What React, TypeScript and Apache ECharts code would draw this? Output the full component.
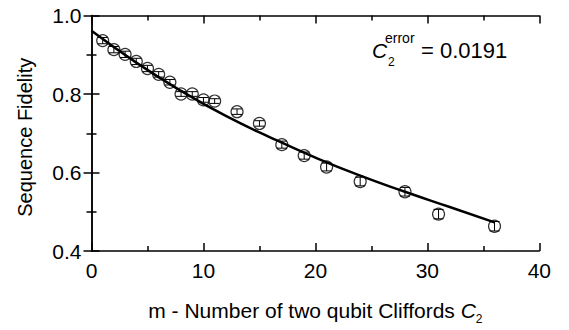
import React, { useEffect, useRef } from "react";
import * as echarts from "echarts";

// Measured data (m, fidelity, error)
const mValues = [1, 2, 3, 4, 5, 6, 7, 8, 9, 10, 11, 13, 15, 17, 19, 21, 24, 28, 31, 36];
const fidelity = [0.936, 0.913, 0.901, 0.883, 0.865, 0.85, 0.83, 0.8, 0.8, 0.785, 0.782, 0.755, 0.725, 0.671, 0.643, 0.614, 0.577, 0.551, 0.494, 0.463];
const errors = [0.008, 0.008, 0.008, 0.008, 0.008, 0.007, 0.007, 0.006, 0.006, 0.006, 0.006, 0.007, 0.007, 0.009, 0.009, 0.01, 0.011, 0.011, 0.012, 0.012];

// Fit curve
const fitM = [0, 4, 8, 12, 16, 20, 24, 28, 32, 36];
const fitF = [0.961, 0.88, 0.808, 0.744, 0.689, 0.638, 0.592, 0.551, 0.512, 0.473];

const xTicks = { min: 0, max: 40, interval: 10 };
const yTicks = { min: 0.4, max: 1.0, interval: 0.2 };

const FONT = "'Liberation Sans', Arial, Helvetica, sans-serif";

export default function App() {
  const ref = useRef<HTMLDivElement>(null);

  useEffect(() => {
    if (!ref.current) return;
    const chart = echarts.init(ref.current, undefined, { renderer: "svg" });

    const points = mValues.map((m, i) => [m, fidelity[i]]);
    const errData = mValues.map((m, i) => [m, fidelity[i], errors[i]]);
    const fitData = fitM.map((m, i) => [m, fitF[i]]);

    const axisLine = { show: true, lineStyle: { color: "#000", width: 1.5 } };
    const tick = { show: true, inside: true, length: 8, lineStyle: { color: "#000", width: 1.5 } };
    const minor = { show: true, splitNumber: 2, length: 5, lineStyle: { color: "#000", width: 1.5 } };

    const option: any = {
      animation: false,
      backgroundColor: "#fff",
      textStyle: { fontFamily: FONT },
      grid: { left: 91.5, right: 29.7, top: 15.5, bottom: 78.5, containLabel: false },
      xAxis: [
        {
          type: "value",
          position: "bottom",
          min: xTicks.min,
          max: xTicks.max,
          interval: xTicks.interval,
          axisLine,
          axisTick: tick,
          minorTick: minor,
          splitLine: { show: false },
          minorSplitLine: { show: false },
          axisLabel: { color: "#000", fontSize: 21, margin: 9, fontFamily: FONT },
          name: "{a|m - Number of two qubit Cliffords }{c|C}{s|2}",
          nameLocation: "middle",
          nameGap: 45,
          nameTextStyle: {
            color: "#000",
            fontFamily: FONT,
            rich: {
              a: { fontSize: 21, lineHeight: 29, color: "#000", fontFamily: FONT },
              c: { fontSize: 21, lineHeight: 29, color: "#000", fontStyle: "italic", fontFamily: FONT },
              s: { fontSize: 12, lineHeight: 12, color: "#000", verticalAlign: "bottom", fontFamily: FONT },
            },
          },
        },
        {
          type: "value",
          position: "top",
          min: xTicks.min,
          max: xTicks.max,
          interval: xTicks.interval,
          axisLine,
          axisTick: tick,
          minorTick: minor,
          splitLine: { show: false },
          axisLabel: { show: false },
        },
      ],
      yAxis: [
        {
          type: "value",
          position: "left",
          min: yTicks.min,
          max: yTicks.max,
          interval: yTicks.interval,
          axisLine,
          axisTick: tick,
          minorTick: minor,
          splitLine: { show: false },
          minorSplitLine: { show: false },
          axisLabel: {
            color: "#000",
            fontSize: 21,
            margin: 10,
            fontFamily: FONT,
            formatter: (v: number) => v.toFixed(1),
          },
          name: "Sequence Fidelity",
          nameLocation: "middle",
          nameGap: 57,
          nameTextStyle: { color: "#000", fontSize: 20, fontFamily: FONT, padding: [0, 8, 0, 0] },
        },
        {
          type: "value",
          position: "right",
          min: yTicks.min,
          max: yTicks.max,
          interval: yTicks.interval,
          axisLine,
          axisTick: tick,
          minorTick: minor,
          splitLine: { show: false },
          axisLabel: { show: false },
        },
      ],
      graphic: [
        { type: "text", left: 372, top: 40, style: { text: "C", fontSize: 21, fontStyle: "italic", fontFamily: FONT, fill: "#000" } },
        { type: "text", left: 388, top: 56, style: { text: "2", fontSize: 12, fontFamily: FONT, fill: "#000" } },
        { type: "text", left: 385, top: 31, style: { text: "error", fontSize: 14, fontFamily: FONT, fill: "#000" } },
        { type: "text", left: 421, top: 39, style: { text: "= 0.0191", fontSize: 22, fontFamily: FONT, fill: "#000" } },
      ],
      series: [
        {
          type: "line",
          data: fitData,
          smooth: true,
          showSymbol: false,
          symbol: "none",
          lineStyle: { color: "#000", width: 2.5 },
          xAxisIndex: 0,
          yAxisIndex: 0,
          z: 2,
        },
        {
          type: "custom",
          xAxisIndex: 0,
          yAxisIndex: 0,
          data: errData,
          encode: { x: 0, y: 1 },
          z: 3,
          renderItem: (params: any, api: any) => {
            const x = api.value(0);
            const y = api.value(1);
            const e = api.value(2);
            const top = api.coord([x, y + e]);
            const bot = api.coord([x, y - e]);
            const hw = 5;
            const st = { stroke: "#000", lineWidth: 1 };
            return {
              type: "group",
              children: [
                { type: "line", shape: { x1: top[0], y1: top[1], x2: bot[0], y2: bot[1] }, style: st },
                { type: "line", shape: { x1: top[0] - hw, y1: top[1], x2: top[0] + hw, y2: top[1] }, style: st },
                { type: "line", shape: { x1: bot[0] - hw, y1: bot[1], x2: bot[0] + hw, y2: bot[1] }, style: st },
              ],
            };
          },
        },
        {
          type: "scatter",
          data: points,
          symbol: "circle",
          symbolSize: 12,
          xAxisIndex: 0,
          yAxisIndex: 0,
          itemStyle: { color: "rgba(0,0,0,0)", borderColor: "#000", borderWidth: 1.2 },
          z: 4,
        },
      ],
    };

    chart.setOption(option);
    return () => chart.dispose();
  }, []);

  return (
    <div
      ref={ref}
      style={{ position: "fixed", left: 0, top: 0, width: 569, height: 330, background: "#fff" }}
    />
  );
}
